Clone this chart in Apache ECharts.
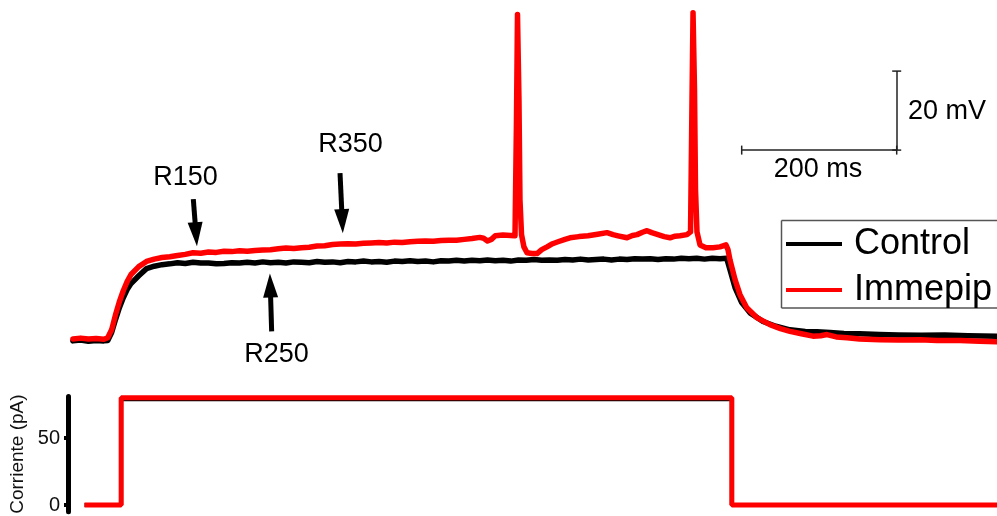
<!DOCTYPE html>
<html>
<head>
<meta charset="utf-8">
<script src="https://cdn.jsdelivr.net/npm/echarts@6/dist/echarts.min.js"></script>
<style>html,body{margin:0;padding:0;background:#fff;overflow:hidden;}#c{width:997px;height:516px;}</style>
</head>
<body>
<div id="c"></div>
<script>
// ---- data (time in ms, voltage in mV, current in pA) ----
const seriesNames = ['Control', 'Immepip'];

const timeControl = [5,15,25,35,45,50,55,60,65,70,75,80,90,100,110,120,130,140,150,160,170,180,190,200,210,220,230,240,250,260,270,280,290,300,310,320,330,340,350,360,370,380,390,400,410,420,430,440,450,460,470,480,490,500,510,520,530,540,550,560,570,580,590,600,610,620,630,640,650,660,670,680,690,700,710,720,730,740,750,760,770,780,790,800,810,820,830,840,848.6,852.9,859.4,868,878.7,895.5,912,930.3,950,965,982,1000,1020,1046,1070,1100,1130,1160,1197];
const vControl = [-70.3,-70.1,-70.4,-70.2,-70.3,-70.2,-68.2,-64.9,-61.9,-59.4,-57.3,-55.8,-53.8,-52.0,-51.4,-51.0,-50.8,-50.5,-50.7,-50.4,-50.6,-50.6,-50.8,-50.7,-50.5,-50.6,-50.4,-50.6,-50.3,-50.5,-50.4,-50.6,-50.3,-50.4,-50.5,-50.2,-50.4,-50.3,-50.5,-50.2,-50.3,-50.1,-50.3,-50.2,-50.4,-50.1,-50.2,-50.0,-50.2,-50.1,-50.3,-50.0,-50.1,-49.9,-50.1,-49.9,-50.0,-49.8,-50.0,-49.9,-50.1,-49.8,-49.9,-49.7,-49.9,-49.8,-49.9,-49.7,-49.8,-49.6,-49.8,-49.7,-49.6,-49.8,-49.6,-49.7,-49.5,-49.6,-49.5,-49.7,-49.5,-49.6,-49.4,-49.5,-49.4,-49.6,-49.4,-49.5,-49.4,-52.3,-56.8,-60.6,-63.2,-65.4,-66.6,-67.5,-67.9,-68.0,-68.2,-68.4,-68.5,-68.7,-68.8,-68.9,-68.8,-69.0,-69.1];

const timeImmepip = [5,15,25,35,45,50,55,60,65,70,75,80,90,100,110,120,130,140,150,160,170,180,190,200,210,220,230,240,250,260,270,280,290,300,310,320,330,340,350,360,370,380,390,400,410,420,430,440,450,460,470,480,490,500,510,520,530,535,540,545,550,560,570,575.5,577.4,578.7,580.6,581.9,583.9,587,591,597.4,603.9,610,616.8,624,631,640,646.5,658,669.7,682,694.2,702,708.4,720,727,733,740,745.8,752,760,768,775.5,782,788.4,797.4,802,803.9,805.2,807.1,808.4,810.3,814.2,821.9,831,840,847.7,850.3,852.9,859.4,865.8,874.5,887.4,904.5,918,930.3,945,960,970,978,990,1004,1020,1046.5,1070,1098,1120,1150,1175,1197];
const vImmepip = [-69.8,-69.6,-69.8,-69.7,-69.9,-69.5,-67.5,-63.7,-60.4,-57.6,-55.3,-53.5,-51.5,-50.2,-49.6,-49.2,-49.0,-48.7,-48.4,-48.0,-48.1,-47.8,-47.9,-47.6,-47.7,-47.5,-47.6,-47.4,-47.3,-47.2,-47.0,-46.8,-46.9,-46.7,-46.6,-46.3,-46.2,-45.9,-45.8,-45.7,-45.8,-45.6,-45.5,-45.4,-45.5,-45.3,-45.4,-45.2,-45.1,-45.0,-45.1,-44.9,-44.8,-44.8,-44.6,-44.4,-44.1,-44.3,-45.0,-44.6,-43.7,-43.5,-43.6,-43.7,-14.3,12.3,-9.2,-34.6,-43.4,-46.5,-48.0,-48.2,-48.2,-47.2,-46.5,-45.7,-45.2,-44.6,-44.2,-43.9,-43.7,-43.3,-42.9,-43.4,-43.7,-44.2,-43.6,-43.4,-42.8,-42.4,-42.9,-43.4,-43.9,-44.2,-43.8,-43.7,-43.4,-42.7,-9.2,12.8,-6.7,-32.0,-42.7,-46.0,-46.7,-46.7,-46.5,-46.0,-47.2,-49.8,-54.8,-58.6,-61.9,-64.4,-66.2,-67.2,-67.9,-68.5,-69.1,-69.0,-68.7,-69.3,-69.5,-69.8,-70.0,-70.1,-70.0,-70.2,-70.2,-70.4,-70.5];

const stepTime = [2, 50, 50, 850, 850, 1200];
const stepControl = [0, 0, 79, 79, 0, 0];
const stepImmepip = [0, 0, 80, 80, 0, 0];
const currentTicks = [0, 50];

const annotationLabels = ['R150', 'R250', 'R350'];
const scaleBarTime = 200;   // ms
const scaleBarVolt = 20;    // mV
const currentAxisName = 'Corriente (pA)';

// ---- build ----
const pairs = (t, v) => t.map((x, i) => [x, v[i]]);
const FONT = 'Liberation Sans, Arial, sans-serif';
const BLACK = '#000000', RED = '#ff0000';

const sbT0 = 868, sbV0 = -22;
const arrowStyle = { color: '#000', width: 5, type: 'solid' };
const barStyle = { color: '#222', width: 1.5, type: 'solid' };
const frameStyle = { stroke: '#555', lineWidth: 1.5 };

const chart = echarts.init(document.getElementById('c'), null, { renderer: 'canvas' });
chart.setOption({
  animation: false,
  backgroundColor: '#fff',
  grid: [
    { left: 69, top: 0, width: 930, height: 371.3, outerBoundsMode: 'none', containLabel: false },
    { left: 83, top: 396.5, width: 916, height: 115.2, outerBoundsMode: 'none', containLabel: false }
  ],
  xAxis: [
    { type: 'value', gridIndex: 0, min: 0, max: 1200, show: false },
    { type: 'value', gridIndex: 1, min: 0, max: 1200, show: false }
  ],
  yAxis: [
    { type: 'value', gridIndex: 0, min: -78, max: 16, show: false },
    {
      type: 'value', gridIndex: 1, min: -5, max: 81, offset: 15,
      name: currentAxisName, nameLocation: 'middle', nameRotate: 90, nameGap: 26,
      nameTextStyle: { fontFamily: FONT, fontSize: 19, color: '#111' },
      axisLine: { show: true, onZero: false, lineStyle: { color: '#000', width: 5 } },
      axisTick: { show: true, length: 4, lineStyle: { color: '#000', width: 4 }, customValues: currentTicks },
      axisLabel: { show: true, margin: 8, fontFamily: FONT, fontSize: 20, color: '#111', customValues: currentTicks },
      splitLine: { show: false }
    }
  ],
  graphic: [
    { type: 'line', z: 1, silent: true, shape: { x1: 781.5, y1: 220.5, x2: 1005, y2: 220.5 }, style: frameStyle },
    { type: 'line', z: 1, silent: true, shape: { x1: 781.5, y1: 220.5, x2: 781.5, y2: 308 }, style: frameStyle },
    { type: 'line', z: 1, silent: true, shape: { x1: 781.5, y1: 308, x2: 1005, y2: 308 }, style: frameStyle }
  ],
  legend: {
    data: seriesNames,
    orient: 'vertical',
    left: 781, top: 221,
    padding: [5, 5, 1, 5],
    itemGap: 10,
    itemWidth: 56, itemHeight: 4,
    icon: 'rect',
    borderWidth: 0,
    backgroundColor: 'transparent',
    z: 10,
    textStyle: { fontFamily: FONT, fontSize: 36, color: '#000', lineHeight: 36, padding: [0, 0, 0, 7] }
  },
  series: [
    {
      name: seriesNames[0], type: 'line', xAxisIndex: 0, yAxisIndex: 0,
      data: pairs(timeControl, vControl), showSymbol: false, symbol: 'none',
      lineStyle: { color: BLACK, width: 5.5, join: 'round', cap: 'round' }, itemStyle: { color: BLACK },
      markLine: {
        silent: true, symbol: ['none', 'triangle'], symbolSize: [15, 24],
        label: { show: false }, lineStyle: arrowStyle,
        data: [
          [{ coord: [160.4, -34.4] }, { coord: [163.9, -43.3] }],
          [{ coord: [261.5, -67.9] }, { coord: [259.7, -56.3] }],
          [{ coord: [349.7, -27.8] }, { coord: [352.6, -40.0] }]
        ]
      },
      markPoint: {
        silent: true, symbol: 'circle', symbolSize: 0,
        label: { show: true, position: 'inside', fontFamily: FONT, fontSize: 27, color: '#000',
                 formatter: p => p.name },
        data: [
          { name: annotationLabels[0], coord: [150.3, -29.0] },
          { name: annotationLabels[1], coord: [267.7, -73.8] },
          { name: annotationLabels[2], coord: [363.2, -20.6] }
        ]
      },
      z: 2
    },
    {
      name: seriesNames[1], type: 'line', xAxisIndex: 0, yAxisIndex: 0,
      data: pairs(timeImmepip, vImmepip), showSymbol: false, symbol: 'none',
      lineStyle: { color: RED, width: 5.5, join: 'round', cap: 'round' }, itemStyle: { color: RED },
      markLine: {
        silent: true, symbol: ['rect', 'rect'], symbolSize: [9, 1.5],
        label: { show: false }, lineStyle: barStyle,
        data: [
          [{ coord: [sbT0, sbV0] }, { coord: [sbT0 + scaleBarTime, sbV0] }],
          [{ coord: [sbT0 + scaleBarTime, sbV0] }, { coord: [sbT0 + scaleBarTime, sbV0 + scaleBarVolt] }]
        ]
      },
      markPoint: {
        silent: true, symbol: 'circle', symbolSize: 0,
        label: { show: true, fontFamily: FONT, fontSize: 27, color: '#000', formatter: p => p.name },
        data: [
          { name: scaleBarTime + ' ms', coord: [966.5, -27.0], label: { position: 'inside' } },
          { name: scaleBarVolt + ' mV', coord: [1082.6, -12.3], label: { position: 'right', distance: 0 } }
        ]
      },
      z: 3
    },
    {
      name: seriesNames[0], type: 'line', xAxisIndex: 1, yAxisIndex: 1,
      data: pairs(stepTime, stepControl), showSymbol: false, symbol: 'none',
      lineStyle: { color: BLACK, width: 4 }, itemStyle: { color: BLACK }, z: 2
    },
    {
      name: seriesNames[1], type: 'line', xAxisIndex: 1, yAxisIndex: 1,
      data: pairs(stepTime, stepImmepip), showSymbol: false, symbol: 'none',
      lineStyle: { color: RED, width: 5 }, itemStyle: { color: RED }, z: 3
    }
  ]
});
</script>
</body>
</html>
